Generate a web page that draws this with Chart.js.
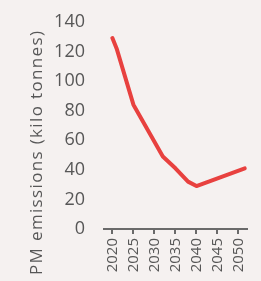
<!DOCTYPE html>
<html>
<head>
<meta charset="utf-8">
<script src="https://cdn.jsdelivr.net/npm/chart.js@4"></script>
<style>
  html, body { margin: 0; padding: 0; background: #f5f1f0; }
  #wrap { width: 261px; height: 281px; }
</style>
</head>
<body>
<div id="wrap"><canvas id="chart" width="261" height="281"></canvas></div>
<script>
// values
const years = [2020, 2021, 2025, 2032, 2035, 2038, 2040, 2051.5];
const emissions = [129, 122, 84, 49, 41, 32, 29, 41];
const xTicks = [2020, 2025, 2030, 2035, 2040, 2045, 2050];
const yTicks = [0, 20, 40, 60, 80, 100, 120, 140];
const yTitle = 'PM emissions (kilo tonnes)';

const textColor = '#575757';

// axis title sits lower than chart.js would centre it, so draw it by hand
const yTitlePlugin = {
  id: 'yTitle',
  afterDraw(chart) {
    const c = chart.ctx;
    c.save();
    c.fillStyle = textColor;
    c.font = '17px "Open Sans"';
    c.letterSpacing = '1.35px';
    c.textAlign = 'left';
    c.textBaseline = 'alphabetic';
    c.translate(42, 275);
    c.rotate(-Math.PI / 2);
    c.fillText(yTitle, 0, 0);
    c.restore();
  },
};

const ctx = document.getElementById('chart').getContext('2d');
new Chart(ctx, {
  type: 'line',
  data: {
    datasets: [{
      data: years.map((y, i) => ({ x: y, y: emissions[i] })),
      borderColor: '#e8413f',
      borderWidth: 4,
      pointRadius: 0,
      fill: false,
      tension: 0,
      borderCapStyle: 'round',
      borderJoinStyle: 'round',
    }],
  },
  options: {
    responsive: false,
    animation: false,
    layout: { padding: { top: 14, right: 9, left: 0, bottom: 0 } },
    plugins: { legend: { display: false }, tooltip: { enabled: false } },
    scales: {
      x: {
        type: 'linear',
        min: 2018,
        max: 2052,
        afterBuildTicks: (scale) => { scale.ticks = xTicks.map(v => ({ value: v })); },
        afterFit: (scale) => { scale.height = 52; },
        grid: { drawOnChartArea: false, drawTicks: true, tickLength: 5, color: '#6a6a6a', lineWidth: 2 },
        border: { display: true, color: '#6a6a6a', width: 2 },
        ticks: {
          minRotation: 90,
          maxRotation: 90,
          padding: 4,
          color: textColor,
          font: { family: 'Open Sans', size: 15 },
          callback: (v) => String(v),
        },
      },
      y: {
        min: 0,
        max: 140,
        afterBuildTicks: (scale) => { scale.ticks = yTicks.map(v => ({ value: v })); },
        afterFit: (scale) => { scale.width = 104; },
        grid: { display: false },
        border: { display: false },
        ticks: {
          padding: 11,
          color: textColor,
          font: { family: 'Open Sans', size: 18 },
        },
      },
    },
  },
  plugins: [yTitlePlugin],
});
</script>
</body>
</html>
